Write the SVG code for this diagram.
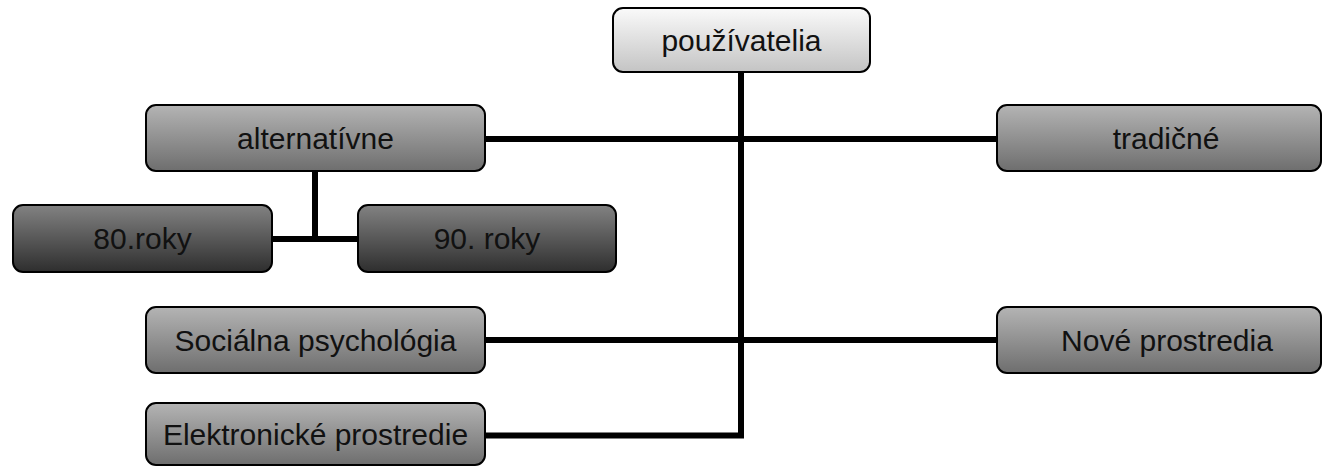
<svg xmlns="http://www.w3.org/2000/svg" width="1323" height="467" viewBox="0 0 1323 467">
<defs>
<linearGradient id="gLight" x1="0" y1="0" x2="0" y2="1"><stop offset="0" stop-color="#fafafa"/><stop offset="1" stop-color="#c4c4c4"/></linearGradient>
<linearGradient id="gMid" x1="0" y1="0" x2="0" y2="1"><stop offset="0" stop-color="#b4b4b4"/><stop offset="1" stop-color="#6e6e6e"/></linearGradient>
<linearGradient id="gDark" x1="0" y1="0" x2="0" y2="1"><stop offset="0" stop-color="#828282"/><stop offset="1" stop-color="#2e2e2e"/></linearGradient>
</defs>
<style>
.box{stroke:#000;stroke-width:2}
.t{font-family:"Liberation Sans",Arial,sans-serif;font-size:30px;fill:#111;text-anchor:middle;dominant-baseline:central}
.c{stroke:#000;stroke-width:6;fill:none}
</style>
<g id="connectors">
<path class="c" d="M741 72 V435.5 H485"/>
<path class="c" d="M485 139 H997"/>
<path class="c" d="M485 340 H997"/>
<path class="c" d="M315 172 V239"/>
<path class="c" d="M272 239 H358"/>
</g>
<g id="n-pouzivatelia"><rect class="box" x="613" y="8" width="257" height="64" rx="10" fill="url(#gLight)"/><text class="t" x="741.5" y="40">používatelia</text></g>
<g id="n-alternativne"><rect class="box" x="146" y="105" width="339" height="66" rx="10" fill="url(#gMid)"/><text class="t" x="315.5" y="138">alternatívne</text></g>
<g id="n-tradicne"><rect class="box" x="997" y="105" width="324" height="66" rx="10" fill="url(#gMid)"/><text class="t" x="1166" y="138">tradičné</text></g>
<g id="n-80"><rect class="box" x="13" y="205" width="259" height="67" rx="10" fill="url(#gDark)"/><text class="t" x="142.5" y="238">80.roky</text></g>
<g id="n-90"><rect class="box" x="358" y="205" width="258" height="67" rx="10" fill="url(#gDark)"/><text class="t" x="487" y="238">90. roky</text></g>
<g id="n-socialna"><rect class="box" x="146" y="307" width="339" height="66" rx="10" fill="url(#gMid)"/><text class="t" x="315.5" y="340">Sociálna psychológia</text></g>
<g id="n-nove"><rect class="box" x="997" y="307" width="324" height="66" rx="10" fill="url(#gMid)"/><text class="t" x="1167" y="340">Nové prostredia</text></g>
<g id="n-elektronicke"><rect class="box" x="146" y="403" width="339" height="62" rx="10" fill="url(#gMid)"/><text class="t" x="315.5" y="434">Elektronické prostredie</text></g>
</svg>
